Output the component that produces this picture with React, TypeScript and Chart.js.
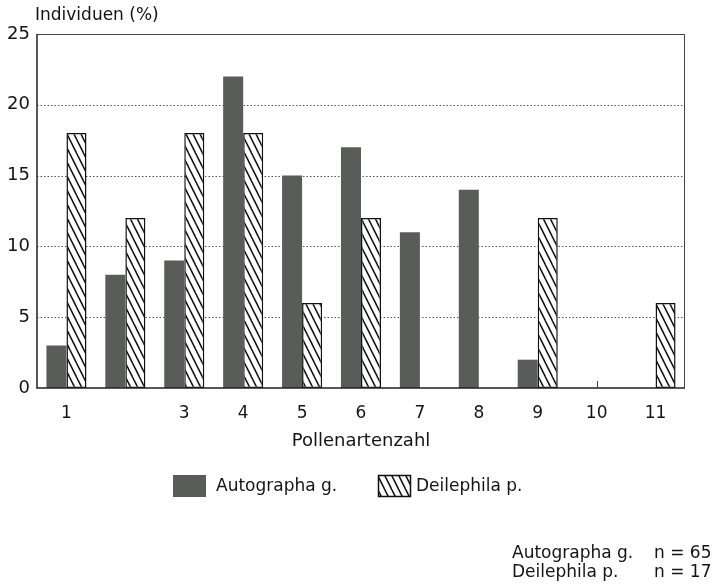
import React, { useEffect, useRef } from 'react';
import { Chart, registerables } from 'chart.js';

Chart.register(...registerables);

const categories = ['1', '2', '3', '4', '5', '6', '7', '8', '9', '10', '11'];
const tickLabels = ['1', '', '3', '4', '5', '6', '7', '8', '9', '10', '11'];
const autographa = [3, 8, 9, 22, 15, 17, 11, 14, 2, 0, 0];
const deilephila = [18, 12, 18, 18, 6, 12, 0, 0, 12, 0, 6];
const seriesNames = ['Autographa g.', 'Deilephila p.'];
const sampleSizes = ['n = 65', 'n = 17'];
const gridValues = [5, 10, 15, 20];
const yTitle = 'Individuen (%)';
const xTitle = 'Pollenartenzahl';

const FONT = "'DejaVu Sans', sans-serif";
const DARK = '#595d5a';
const INK = '#141414';

function makeHatch(): CanvasPattern | string {
  const c = document.createElement('canvas');
  c.width = 7;
  c.height = 14;
  const g = c.getContext('2d');
  if (!g) return '#fff';
  g.fillStyle = '#fff';
  g.fillRect(0, 0, 7, 14);
  g.strokeStyle = '#111';
  g.lineWidth = 1.5;
  for (const dx of [-7, 0, 7]) {
    g.beginPath();
    g.moveTo(dx - 1, -2);
    g.lineTo(dx + 8, 16);
    g.stroke();
  }
  return g.createPattern(c, 'repeat') || '#fff';
}

export default function App() {
  const ref = useRef<HTMLCanvasElement | null>(null);

  useEffect(() => {
    if (!ref.current) return;
    const hatch = makeHatch();

    const decor = {
      id: 'decor',
      beforeDatasetsDraw(chart: any) {
        const { ctx, chartArea } = chart;
        const y = chart.scales.y;
        ctx.save();
        ctx.strokeStyle = '#555';
        ctx.lineWidth = 1;
        ctx.setLineDash([1.5, 2]);
        for (const v of gridValues) {
          const py = Math.round(y.getPixelForValue(v)) + 0.5;
          ctx.beginPath();
          ctx.moveTo(chartArea.left, py);
          ctx.lineTo(chartArea.right, py);
          ctx.stroke();
        }
        ctx.restore();
      },
      afterDatasetsDraw(chart: any) {
        const { ctx, chartArea } = chart;
        const { left, right, top, bottom } = chartArea;
        ctx.save();
        ctx.setLineDash([]);
        ctx.strokeStyle = '#444';
        ctx.lineWidth = 1;
        ctx.beginPath();
        ctx.moveTo(left, top + 0.5);
        ctx.lineTo(right, top + 0.5);
        ctx.moveTo(right - 0.5, top);
        ctx.lineTo(right - 0.5, bottom);
        ctx.stroke();
        ctx.strokeStyle = '#222';
        ctx.lineWidth = 1.5;
        ctx.beginPath();
        ctx.moveTo(left, top);
        ctx.lineTo(left, bottom);
        ctx.lineTo(right, bottom);
        ctx.stroke();
        // small tick at category 10
        const x10 = chart.scales.x.getPixelForValue(9);
        ctx.lineWidth = 1;
        ctx.strokeStyle = '#444';
        ctx.beginPath();
        ctx.moveTo(Math.round(x10) + 0.5, bottom);
        ctx.lineTo(Math.round(x10) + 0.5, bottom - 7);
        ctx.stroke();
        ctx.restore();
      },
      afterDraw(chart: any) {
        const { ctx, chartArea } = chart;
        ctx.save();
        ctx.fillStyle = INK;
        ctx.textBaseline = 'middle';
        // y title
        ctx.font = `17px ${FONT}`;
        ctx.textAlign = 'left';
        ctx.fillText(yTitle, 35, 16);
        // x title
        ctx.font = `18px ${FONT}`;
        ctx.textAlign = 'center';
        ctx.fillText(xTitle, (chartArea.left + chartArea.right) / 2, 441);
        // legend
        const ds = chart.data.datasets;
        ctx.font = `17px ${FONT}`;
        ctx.textAlign = 'left';
        const items = [
          { bx: 173, tx: 216 },
          { bx: 378, tx: 416 },
        ];
        items.forEach((it, i) => {
          ctx.fillStyle = ds[i].backgroundColor;
          ctx.fillRect(it.bx, 475, 33, 22);
          if (i === 1) {
            ctx.strokeStyle = '#111';
            ctx.lineWidth = 1.5;
            ctx.strokeRect(it.bx + 0.5, 475.5, 32, 21);
          }
          ctx.fillStyle = INK;
          ctx.fillText(seriesNames[i], it.tx, 487);
        });
        // sample sizes
        ctx.font = `17px ${FONT}`;
        seriesNames.forEach((name, i) => {
          const yy = 554 + i * 19;
          ctx.textAlign = 'left';
          ctx.fillText(name, 512, yy);
          ctx.fillText(sampleSizes[i], 654, yy);
        });
        ctx.restore();
      },
    };

    const chart = new Chart(ref.current, {
      type: 'bar',
      data: {
        labels: categories,
        datasets: [
          {
            label: seriesNames[0],
            data: autographa,
            backgroundColor: DARK,
            borderWidth: 0,
            categoryPercentage: 0.68,
            barPercentage: 1,
          },
          {
            label: seriesNames[1],
            data: deilephila,
            backgroundColor: hatch as any,
            borderColor: '#111',
            borderWidth: (c: any) => (c.raw === 0 ? 0 : 1.5),
            borderSkipped: false,
            categoryPercentage: 0.68,
            barPercentage: 1,
          },
        ],
      },
      options: {
        responsive: false,
        animation: false,
        devicePixelRatio: 1,
        layout: { padding: { left: 0, right: 32, top: 34, bottom: 0 } },
        plugins: {
          legend: { display: false },
          tooltip: { enabled: false },
        },
        scales: {
          x: {
            grid: { display: false, drawTicks: false },
            border: { display: false },
            ticks: {
              autoSkip: false,
              maxRotation: 0,
              padding: 15,
              color: INK,
              font: { family: FONT, size: 17 },
              callback: (_v: any, i: number) => tickLabels[i],
            },
            afterFit: (s: any) => {
              s.height = 200;
            },
          },
          y: {
            min: 0,
            max: 25,
            grid: { display: false, drawTicks: false },
            border: { display: false },
            ticks: {
              stepSize: 5,
              padding: 7,
              color: INK,
              font: { family: FONT, size: 18 },
            },
            afterFit: (s: any) => {
              s.width = 37;
            },
          },
        },
      },
      plugins: [decor],
    } as any);

    return () => chart.destroy();
  }, []);

  return (
    <div style={{ position: 'absolute', left: 0, top: 0, width: 717, height: 588, background: '#fff' }}>
      <canvas ref={ref} width={717} height={588} />
    </div>
  );
}
